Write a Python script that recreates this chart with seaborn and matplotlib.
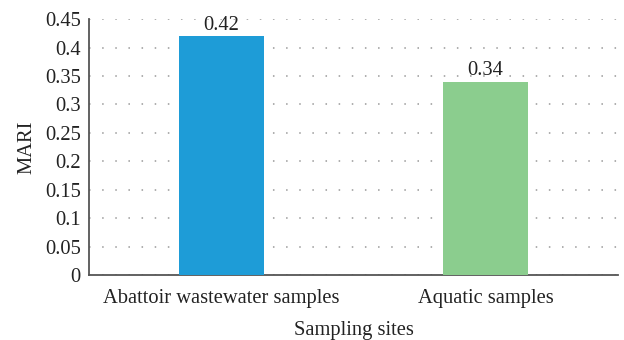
import matplotlib
matplotlib.use("Agg")
import matplotlib.pyplot as plt
import seaborn as sns
import pandas as pd

sites = ["Abattoir wastewater samples", "Aquatic samples"]
mari = [0.42, 0.34]
bar_colors = ["#1E9CD7", "#8BCD8E"]
y_ticks = [0, 0.05, 0.1, 0.15, 0.2, 0.25, 0.3, 0.35, 0.4, 0.45]
y_tick_labels = ["0", "0.05", "0.1", "0.15", "0.2", "0.25", "0.3", "0.35", "0.4", "0.45"]

sns.set_theme(style="white")
plt.rcParams["font.family"] = ["Liberation Serif", "DejaVu Serif"]

df = pd.DataFrame({"site": sites, "MARI": mari})

fig, ax = plt.subplots(figsize=(6.24, 3.4), dpi=100)
fig.subplots_adjust(left=0.143, right=0.99, top=0.944, bottom=0.19)

sns.barplot(data=df, x="site", y="MARI", hue="site", palette=bar_colors,
            legend=False, width=0.32, saturation=1, linewidth=0, ax=ax, zorder=3)

fs = 14.8
ax.set_ylim(0, 0.45)
ax.set_yticks(y_ticks)
ax.set_yticklabels(y_tick_labels, fontsize=fs, color="#222222")
ax.tick_params(axis="x", labelsize=fs, colors="#222222", length=0, pad=10)
ax.tick_params(axis="y", length=0, pad=6)
ax.yaxis.grid(True, linestyle=(0, (1, 7.6)), color="#999999", linewidth=1.1, zorder=0)
ax.set_axisbelow(True)

for side in ["top", "right"]:
    ax.spines[side].set_visible(False)
for side in ["left", "bottom"]:
    ax.spines[side].set_color("#555555")
    ax.spines[side].set_linewidth(1.3)

for container in ax.containers:
    ax.bar_label(container, fmt="%.2f", fontsize=fs, padding=1, color="#222222")

ax.set_xlabel("Sampling sites", fontsize=fs, color="#222222", labelpad=9)
ax.set_ylabel("MARI", fontsize=fs, color="#222222", labelpad=6)

fig.savefig("out.png", dpi=100, facecolor="white")
